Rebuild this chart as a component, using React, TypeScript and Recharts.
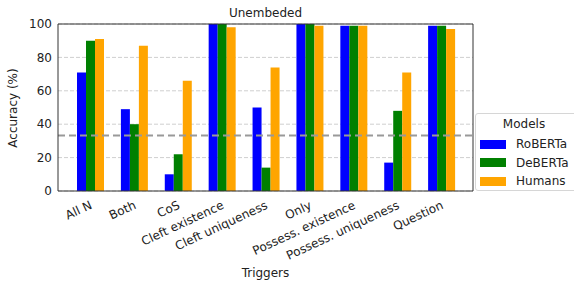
import React from 'react'
import { BarChart, Bar, XAxis, YAxis, CartesianGrid, ReferenceLine } from 'recharts'

// categories and accuracy values (%)
const categories = [
  'All N',
  'Both',
  'CoS',
  'Cleft existence',
  'Cleft uniqueness',
  'Only',
  'Possess. existence',
  'Possess. uniqueness',
  'Question',
]
const roberta = [71, 49, 10, 100, 50, 100, 99, 17, 99]
const deberta = [90, 40, 22, 100, 14, 100, 99, 48, 99]
const humans = [91, 87, 66, 98, 74, 99, 99, 71, 97]
const yTicks = [0, 20, 40, 60, 80, 100]
const chance = 33.3

const models = [
  { key: 'RoBERTa', color: '#0000ff' },
  { key: 'DeBERTa', color: '#008000' },
  { key: 'Humans', color: '#ffa500' },
]

const data = categories.map((name, i) => ({
  name,
  RoBERTa: roberta[i],
  DeBERTa: deberta[i],
  Humans: humans[i],
}))

const font = '"DejaVu Sans", sans-serif'

const XTick = (props: any) => {
  const { x, y, payload } = props
  const tx = x + 3
  const ty = y + 11
  return (
    <text
      x={tx}
      y={ty}
      transform={`rotate(-25 ${tx} ${ty})`}
      textAnchor="end"
      fontSize={12}
      fontFamily={font}
      fill="#222"
    >
      {payload.value}
    </text>
  )
}

const App = () => {
  return (
    <div style={{ position: 'absolute', left: 0, top: 0, width: 574, height: 285, background: '#fff', fontFamily: font }}>
      <BarChart
        width={574}
        height={285}
        data={data}
        margin={{ top: 23, right: 100, bottom: 0, left: 0 }}
        barCategoryGap={9}
        barGap={0}
      >
        <CartesianGrid vertical={false} stroke="#cfcfcf" strokeDasharray="4 2" />
        <XAxis
          dataKey="name"
          height={94}
          interval={0}
          padding={{ left: 10, right: 10 }}
          stroke="#333"
          tickLine={false}
          tickSize={4}
          tick={<XTick />}
          label={{ value: 'Triggers', position: 'insideBottom', offset: 8, fontSize: 12, fill: '#222', fontFamily: font }}
        />
        <XAxis
          xAxisId="top"
          type="number"
          domain={[0, 1]}
          orientation="top"
          height={1}
          tick={false}
          tickLine={false}
          stroke="#333"
          label={{ value: 'Unembeded', position: 'top', offset: 6, fontSize: 12, fill: '#222', fontFamily: font }}
        />
        <YAxis
          width={58}
          domain={[0, 100]}
          ticks={yTicks}
          interval={0}
          stroke="#333"
          tickLine={false}
          tickSize={4}
          tick={{ fontSize: 12, fill: '#222', fontFamily: font }}
          label={{
            content: () => (
              <text x={17} y={108} transform="rotate(-90 17 108)" textAnchor="middle" fontSize={12} fill="#222" fontFamily={font}>
                Accuracy (%)
              </text>
            ),
          }}
        />
        <YAxis
          yAxisId="right"
          type="number"
          orientation="right"
          width={1}
          domain={[0, 100]}
          tick={false}
          tickLine={false}
          stroke="#333"
        />
        {models.map(m => (
          <Bar key={m.key} dataKey={m.key} fill={m.color} isAnimationActive={false} />
        ))}
        <ReferenceLine y={chance} stroke="#999" strokeWidth={2} strokeDasharray="7 4" />
      </BarChart>
      <div
        style={{
          position: 'absolute',
          left: 475,
          top: 113,
          width: 104,
          height: 78,
          border: '1px solid #d6d6d6',
          borderRadius: 3,
          background: 'rgba(255,255,255,0.8)',
          fontSize: 12,
          color: '#222',
          boxSizing: 'border-box',
        }}
      >
        <div style={{ position: 'absolute', left: 0, width: 100, top: 3, textAlign: 'center', marginLeft: -2 }}>Models</div>
        {models.map((m, i) => (
          <div key={m.key} style={{ position: 'absolute', left: 4, top: 23 + i * 18.5, display: 'flex', alignItems: 'center' }}>
            <span style={{ display: 'inline-block', width: 26, height: 9, background: m.color }} />
            <span style={{ marginLeft: 10, lineHeight: '14px' }}>{m.key}</span>
          </div>
        ))}
      </div>
    </div>
  )
}

export default App
